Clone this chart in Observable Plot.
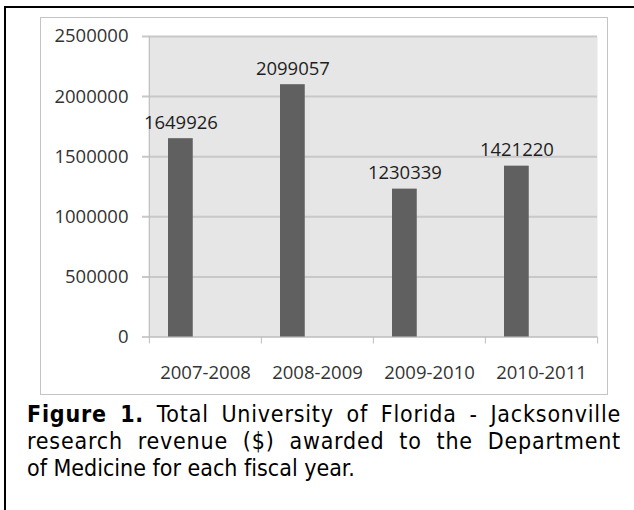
<!DOCTYPE html>
<html>
<head>
<meta charset="utf-8">
<script src="https://cdn.jsdelivr.net/npm/d3@7"></script>
<script src="https://cdn.jsdelivr.net/npm/@observablehq/plot@0.6"></script>
<style>
  html, body { margin: 0; padding: 0; background: #fff; }
  body { width: 634px; height: 510px; position: relative; overflow: hidden; }
  #frame { position: absolute; left: 4px; top: 6px; width: 700px; height: 600px;
           border-left: 2px solid #000; border-top: 2px solid #000; }
  #chart { position: absolute; left: 40px; top: 17px; width: 568px; height: 378px; }
  #box { position: absolute; left: 40px; top: 17px; width: 566px; height: 376px;
         border: 1px solid #c4c4c4; pointer-events: none; }
  #caption { position: absolute; left: 27px; top: 401px; width: 594px;
             font-family: "DejaVu Sans Condensed", "DejaVu Sans", sans-serif;
             font-size: 23px; line-height: 27px; color: #000;
             font-variant-ligatures: none; }
  #caption .j { text-align: justify; text-align-last: justify; white-space: nowrap; letter-spacing: 0.8px; }
  #caption b { font-weight: bold; }
</style>
</head>
<body>
<div id="frame"></div>
<div id="chart"></div>
<div id="box"></div>
<div id="caption">
  <div class="j"><b>Figure 1.</b> Total University of Florida - Jacksonville</div>
  <div class="j">research revenue ($) awarded to the Department</div>
  <div>of Medicine for each fiscal year.</div>
</div>
<script>
const categories = ["2007-2008", "2008-2009", "2009-2010", "2010-2011"];
const revenue = [1649926, 2099057, 1230339, 1421220];
const yTicks = [0, 500000, 1000000, 1500000, 2000000, 2500000];

const data = categories.map((c, i) => ({cat: c, value: revenue[i]}));

const W = 568, H = 378, ML = 108, MR = 11, MT = 19, MB = 58.5;
const bw = (W - ML - MR) / categories.length;
const font = "Open Sans";
const fs = 18.5;

const chart = Plot.plot({
  width: W,
  height: H,
  marginLeft: ML,
  marginRight: MR,
  marginTop: MT,
  marginBottom: MB,
  style: {fontFamily: font, fontSize: fs + "px", background: "transparent", overflow: "visible"},
  x: {type: "band", domain: categories, paddingInner: 0, paddingOuter: 0, label: null},
  y: {domain: [0, 2500000], label: null},
  marks: [
    Plot.frame({fill: "#e6e6e6", stroke: "none"}),
    Plot.ruleY(yTicks.filter(d => d > 0), {stroke: "#c8c8c8", strokeWidth: 2, insetLeft: -6}),
    Plot.ruleX([categories[0]], {x: d => d, dx: -bw / 2, stroke: "#bdbdbd", strokeWidth: 1}),
    Plot.ruleX(categories, {x: d => d, y1: 0, y2: 0, insetBottom: -7, dx: -bw / 2, stroke: "#bdbdbd"}),
    Plot.ruleX([categories[categories.length - 1]], {x: d => d, y1: 0, y2: 0, insetBottom: -7, dx: bw / 2, stroke: "#bdbdbd"}),
    Plot.ruleY([0], {stroke: "#bdbdbd", strokeWidth: 1.5, insetLeft: -6}),
    Plot.barY(data, {x: "cat", y: "value", fill: "#606060", insetLeft: 19, insetRight: bw - 19 - 25}),
    Plot.text(data, {x: "cat", y: "value", text: d => String(d.value), dx: -24.6, dy: -10,
                     lineAnchor: "bottom", fontSize: fs, fill: "#1e1e1e"}),
    Plot.axisY({ticks: yTicks, tickSize: 0, tickPadding: 20, tickFormat: d => String(d),
                fontSize: fs, fill: "#333", label: null}),
    Plot.axisX({tickSize: 0, tickPadding: 29, fontSize: fs, fill: "#333", label: null})
  ]
});
document.getElementById("chart").appendChild(chart);
</script>
</body>
</html>
